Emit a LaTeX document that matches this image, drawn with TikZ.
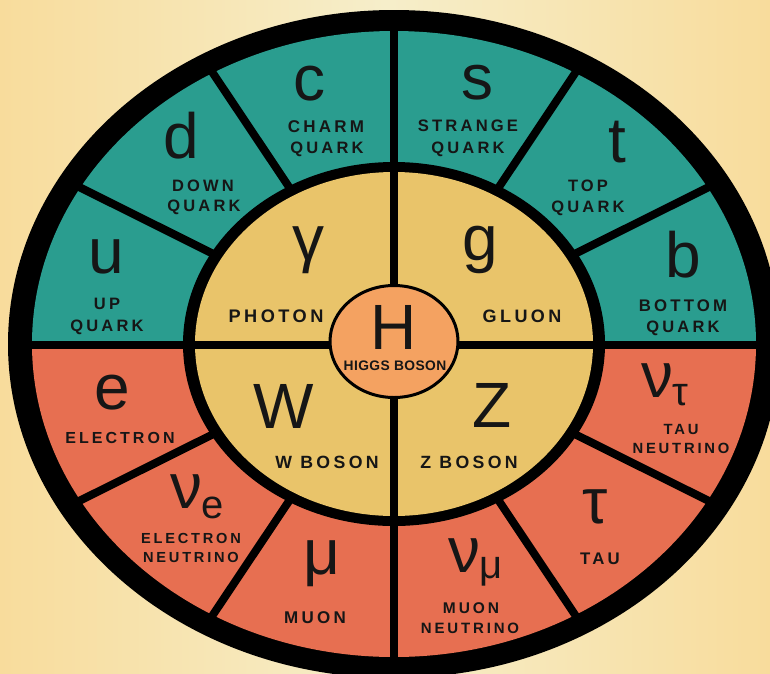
\documentclass[tikz,border=0pt]{standalone}
\usepackage{fontspec}
\setmainfont{Liberation Sans}
\newfontfamily\lblfont[LetterSpace=19]{Liberation Sans}
\newfontfamily\higgsfont[LetterSpace=3]{Liberation Sans}
\definecolor{cTeal}{HTML}{2A9D8F}
\definecolor{cRed}{HTML}{E76F51}
\definecolor{cYel}{HTML}{E9C46A}
\definecolor{cOrg}{HTML}{F4A261}
\definecolor{ink}{HTML}{161616}
\definecolor{bgEdge}{HTML}{F8DC9C}
\definecolor{bgMid}{HTML}{F6EECA}
\tikzset{
  big/.style={inner sep=0pt, anchor=base, text=ink, font=\fontsize{64}{64}\selectfont},
  lbl/.style={inner sep=0pt, anchor=base, text=ink, font=\lblfont\bfseries\fontsize{#1}{#1}\selectfont},
  lbl/.default=16.8,
  higgs/.style={inner sep=0pt, anchor=base, text=ink, font=\higgsfont\bfseries\fontsize{13.8}{13.8}\selectfont},
  divider/.style={line width=8pt, black},
}
\newcommand{\subsc}[2]{\kern-1pt\raisebox{-#2pt}{\fontsize{40}{40}\selectfont #1}}
\begin{document}
\begin{tikzpicture}[x=1pt,y=-1pt]
\useasboundingbox (0,0) rectangle (770,673);
\clip (0,0) rectangle (770,673);
% background
\shade[left color=bgEdge, right color=bgEdge, middle color=bgMid] (0,0) rectangle (770,673);
% outer black ring
\fill[black] (394,344) ellipse [x radius=386pt, y radius=334pt];
\begin{scope}
  \clip (0,0) rectangle (800,344);
  \fill[cTeal] (394,344) ellipse [x radius=362pt, y radius=313pt];
\end{scope}
\begin{scope}
  \clip (0,344) rectangle (800,700);
  \fill[cRed] (394,344) ellipse [x radius=362pt, y radius=313pt];
\end{scope}
% radial dividers
\foreach \t in {30,60,120,150,210,240,300,330}
  \draw[divider] ({394+205*cos(\t)},{344-177*sin(\t)}) -- ({394+374*cos(\t)},{344-323*sin(\t)});
% middle ring
\fill[black] (394,344) ellipse [x radius=211pt, y radius=182pt];
\fill[cYel] (394,344) ellipse [x radius=199pt, y radius=172pt];
% cross lines
\draw[divider] (394,15) -- (394,690);
\draw[divider] (10,345) -- (780,345);
% Higgs
\filldraw[fill=cOrg, draw=black, line width=3pt] (394,341.5) ellipse [x radius=64pt, y radius=56pt];
\node[big] (H) at (394,349) {H};
\node[higgs] (Hl) at (395,370) {HIGGS BOSON};
% quarks
\node[big] (c) at (309,100) {c};
\node[lbl=17] (c1) at (326,132) {CHARM};
\node[lbl=16.5] (c2) at (327,153) {QUARK};
\node[big] (d) at (181,158) {d};
\node[lbl=16.5] (d1) at (203,191) {DOWN};
\node[lbl=16.5] (d2) at (204,211) {QUARK};
\node[big] (u) at (106,273) {u};
\node[lbl=16.5] (u1) at (107,309) {UP};
\node[lbl=16.5] (u2) at (107,331) {QUARK};
\node[big] (s) at (477,99) {s};
\node[lbl=16.6] (s1) at (468,131) {STRANGE};
\node[lbl=16.5] (s2) at (468,153) {QUARK};
\node[big] (t) at (617,162) {t};
\node[lbl=16.5] (t1) at (588,191) {TOP};
\node[lbl=16.5] (t2) at (588,212) {QUARK};
\node[big] (b) at (683,277) {b};
\node[lbl=16.8] (b1) at (683,311) {BOTTOM};
\node[lbl=16.5] (b2) at (683,332) {QUARK};
% bosons
\node[big] (gam) at (308,260) {γ};
\node[lbl=18.2] (gam1) at (276,322) {PHOTON};
\node[big] (g) at (480,260) {g};
\node[lbl=18] (g1) at (522,322) {GLUON};
\node[big] (W) at (284,428) {W};
\node[lbl=17.7] (W1) at (327,468) {W BOSON};
\node[big] (Z) at (492,427) {Z};
\node[lbl=17.7] (Z1) at (469,468) {Z BOSON};
% leptons
\node[big] (e) at (112,409) {e};
\node[lbl=16] (e1) at (120,443) {ELECTRON};
\node[big] (ne) at (197,508) {ν\subsc{e}{10}};
\node[lbl=14.6] (ne1) at (191,543) {ELECTRON};
\node[lbl=14.6] (ne2) at (191,562) {NEUTRINO};
\node[big] (mu) at (322,574) {μ};
\node[lbl=17] (mu1) at (315,623) {MUON};
\node[big] (nm) at (476,572) {ν\subsc{μ}{6}};
\node[lbl=15.5] (nm1) at (471,613) {MUON};
\node[lbl=15] (nm2) at (470,633) {NEUTRINO};
\node[big] (tau) at (595,523) {τ};
\node[lbl=16.8] (tau1) at (600,564) {TAU};
\node[big] (nt) at (665,397) {ν\subsc{τ}{8}};
\node[lbl=14.8] (nt1) at (681,434) {TAU};
\node[lbl=14.8] (nt2) at (681,453) {NEUTRINO};
\end{tikzpicture}
\end{document}
